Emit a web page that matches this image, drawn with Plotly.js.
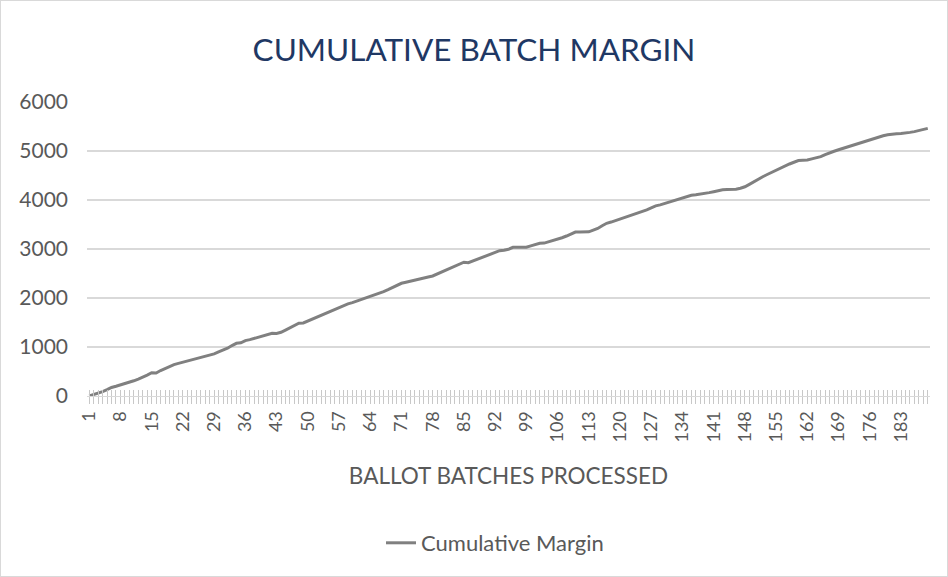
<!DOCTYPE html>
<html>
<head>
<meta charset="utf-8">
<script src="https://cdn.plot.ly/plotly-3.0.1.min.js"></script>
<style>
  html, body { margin: 0; padding: 0; background: #fff; }
  #chart { width: 946px; height: 575px; border: 1px solid #d9d9d9; }
</style>
</head>
<body>
<div id="chart"></div>
<script>
// cumulative margin after each ballot batch
const batchMargin = [
  0, 25, 55, 90, 130, 175, 200, 225, 250, 275,
  310, 345, 380, 425, 475, 470, 520, 565, 600, 640,
  665, 690, 715, 735, 760, 780, 805, 830, 860, 900,
  930, 975, 1030, 1075, 1085, 1130, 1150, 1175, 1200, 1230,
  1255, 1280, 1275, 1300, 1345, 1390, 1430, 1485, 1490, 1530,
  1565, 1605, 1645, 1690, 1730, 1770, 1810, 1850, 1880, 1905,
  1935, 1970, 2005, 2035, 2065, 2095, 2130, 2170, 2215, 2260,
  2300, 2320, 2345, 2365, 2385, 2405, 2430, 2450, 2490, 2535,
  2580, 2625, 2655, 2695, 2730, 2720, 2755, 2790, 2820, 2850,
  2880, 2925, 2965, 2975, 2995, 3035, 3035, 3030, 3035, 3065,
  3090, 3115, 3120, 3145, 3175, 3205, 3230, 3265, 3305, 3345,
  3345, 3345, 3350, 3385, 3420, 3475, 3525, 3550, 3580, 3610,
  3640, 3670, 3700, 3730, 3760, 3800, 3840, 3880, 3900, 3930,
  3955, 3980, 4015, 4050, 4080, 4095, 4105, 4115, 4135, 4150,
  4170, 4195, 4210, 4212, 4215, 4220, 4240, 4270, 4320, 4375,
  4430, 4475, 4520, 4565, 4610, 4650, 4695, 4735, 4770, 4805,
  4810, 4815, 4840, 4860, 4885, 4925, 4965, 4995, 5025, 5055,
  5085, 5115, 5145, 5160, 5190, 5225, 5260, 5290, 5310, 5330,
  5345, 5350, 5355, 5360, 5380, 5395, 5420, 5440, 5462
];

// batch numbers 1..N
const batches = batchMargin.map((v, i) => i + 1);

// only every 7th batch gets a label, like the original
const tickLabels = batches.map(b => ((b - 1) % 7 === 0 ? String(b) : ''));

const yTicks = [0, 1000, 2000, 3000, 4000, 5000, 6000];

const gray = '#595959';
const lightGray = '#d9d9d9';
const tickGray = '#c8c8c8';
const fontFamily = 'Lato, "Open Sans", sans-serif';

const trace = {
  x: batches,
  y: batchMargin,
  type: 'scatter',
  mode: 'lines',
  name: 'Cumulative Margin',
  line: { color: '#808080', width: 3 }
};

// invisible copy on x2 so the inner tick marks get drawn
const tickTrace = {
  x: batches,
  y: batchMargin,
  xaxis: 'x2',
  type: 'scatter',
  mode: 'lines',
  line: { width: 0 },
  showlegend: false,
  hoverinfo: 'skip'
};

const layout = {
  width: 946,
  height: 575,
  margin: { l: 86, r: 17, t: 101, b: 180 },
  paper_bgcolor: '#fff',
  plot_bgcolor: '#fff',
  font: { family: fontFamily, color: gray },
  title: {
    text: 'CUMULATIVE BATCH MARGIN',
    font: { family: fontFamily, size: 31.5, color: '#1f3864' },
    x: 0.5,
    xanchor: 'center',
    y: 0.915,
    yanchor: 'middle'
  },
  xaxis: {
    range: [0.5, batches.length + 0.5],
    tickmode: 'array',
    tickvals: batches,
    ticktext: tickLabels,
    tickangle: -90,
    ticks: 'outside',
    ticklen: 7,
    tickwidth: 1,
    tickcolor: tickGray,
    tickfont: { size: 18, color: gray },
    showgrid: false,
    zeroline: false,
    showline: true,
    linecolor: lightGray,
    linewidth: 1,
    title: {
      text: 'BALLOT BATCHES PROCESSED',
      font: { size: 22.5, color: gray },
      standoff: 26
    }
  },
  // second axis only to draw the tick marks above the axis line too
  xaxis2: {
    overlaying: 'x',
    anchor: 'y',
    side: 'bottom',
    range: [0.5, batches.length + 0.5],
    tickmode: 'linear',
    tick0: 1,
    dtick: 1,
    ticks: 'inside',
    ticklen: 6,
    tickwidth: 1,
    tickcolor: tickGray,
    showticklabels: false,
    showgrid: false,
    zeroline: false,
    showline: false
  },
  yaxis: {
    range: [0, 6000],
    tickmode: 'array',
    tickvals: yTicks,
    tickfont: { size: 21, color: gray },
    gridcolor: lightGray,
    gridwidth: 1.5,
    zeroline: false,
    showline: false,
    ticks: '',
    ticklabelstandoff: 18
  },
  showlegend: true,
  legend: {
    orientation: 'h',
    x: 0.484,
    xanchor: 'center',
    y: -0.5,
    yanchor: 'middle',
    font: { size: 22, color: gray },
    bgcolor: 'rgba(0,0,0,0)'
  }
};

Plotly.newPlot('chart', [tickTrace, trace], layout, { displayModeBar: false, staticPlot: true });
</script>
</body>
</html>
